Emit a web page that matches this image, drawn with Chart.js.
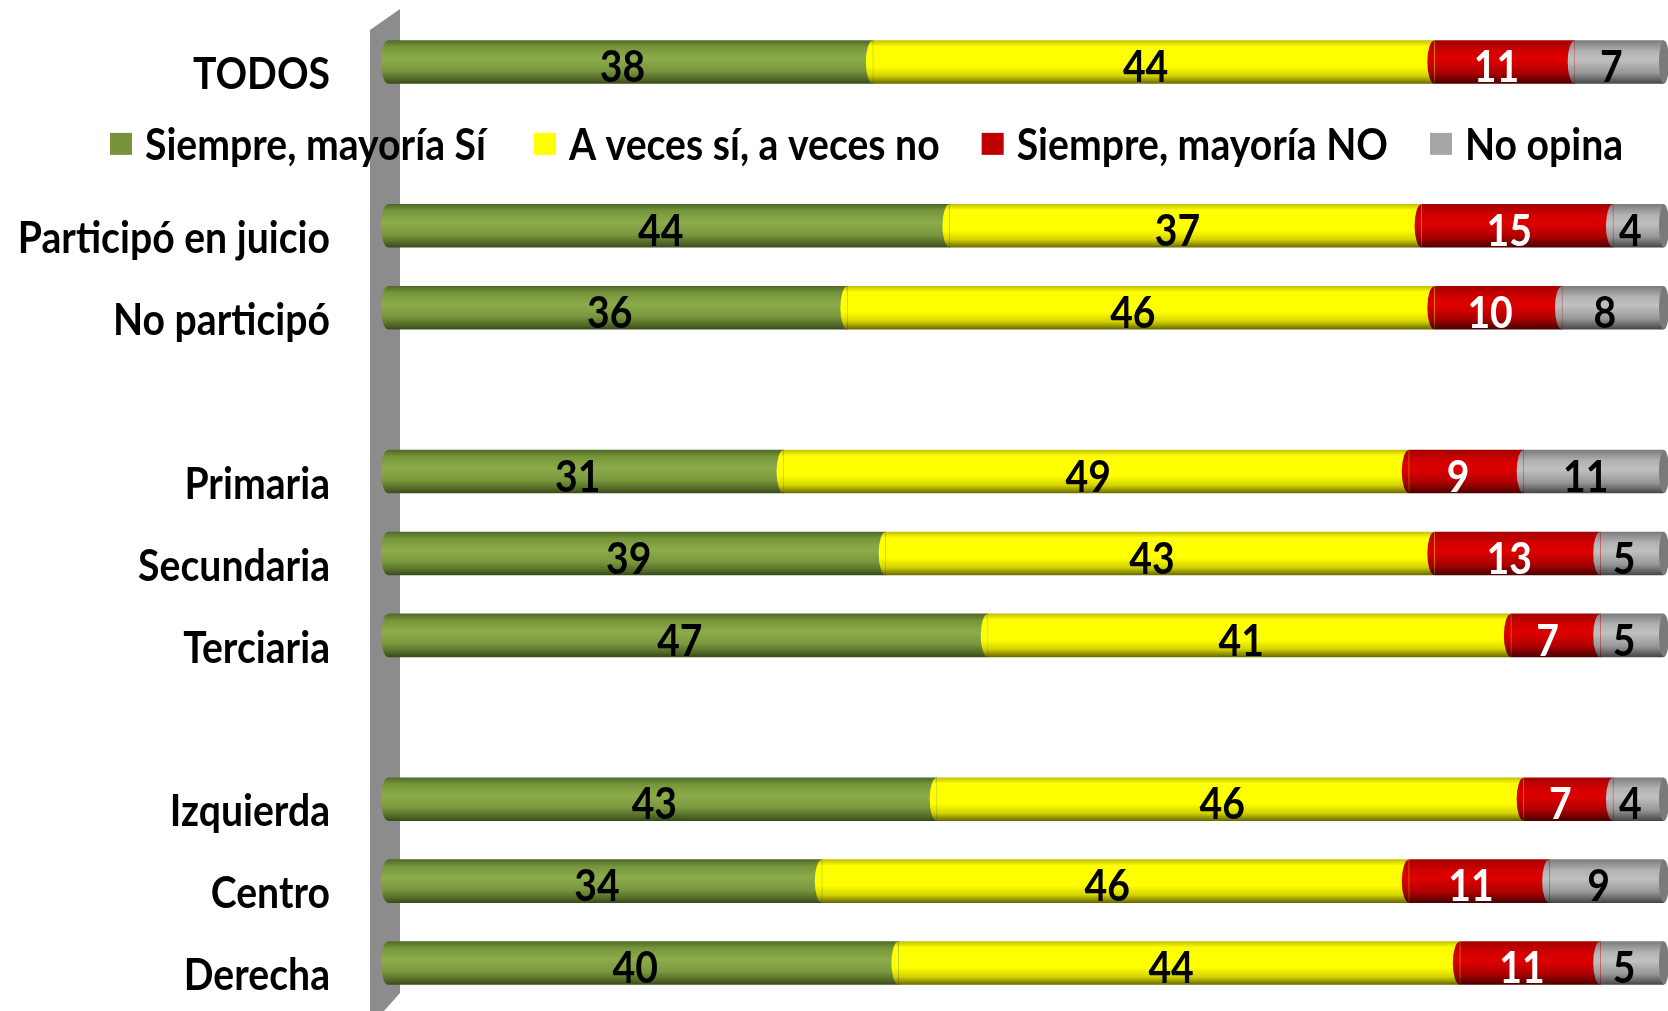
<!DOCTYPE html>
<html>
<head>
<meta charset="utf-8">
<script src="https://cdn.jsdelivr.net/npm/chart.js@4.4.1/dist/chart.umd.min.js"></script>
<style>
  html, body { margin: 0; padding: 0; background: #ffffff; }
  #wrap { width: 1668px; height: 1011px; }
</style>
</head>
<body>
<div id="wrap"><canvas id="c" width="1668" height="1011"></canvas></div>
<script>
const categories = ['TODOS', '', 'Participó en juicio', 'No participó', '', 'Primaria', 'Secundaria', 'Terciaria', '', 'Izquierda', 'Centro', 'Derecha'];
const seriesNames = ['Siempre, mayoría Sí', 'A veces sí, a veces no', 'Siempre, mayoría NO', 'No opina'];
const siempreSi  = [38, null, 44, 36, null, 31, 39, 47, null, 43, 34, 40];
const aVeces     = [44, null, 37, 46, null, 49, 43, 41, null, 46, 46, 44];
const siempreNo  = [11, null, 15, 10, null, 9, 13, 7, null, 7, 11, 11];
const noOpina    = [7, null, 4, 8, null, 11, 5, 5, null, 4, 9, 5];

const FONT = 'bold 44px Lato, "Open Sans", sans-serif';
const SX = 0.89; // horizontal squeeze to mimic the narrow bold face
const legendColors = ['#77933c', '#ffff00', '#c00000', '#a6a6a6'];
const labelColors = ['#000000', '#000000', '#ffffff', '#000000'];
const gradStops = [
  [[0, '#4f6a26'], [0.15, '#76953b'], [0.42, '#8cac4b'], [0.7, '#7a973d'], [0.88, '#566e29'], [1, '#3a4b1b']],
  [[0, '#c2c200'], [0.14, '#ffff00'], [0.6, '#ffff00'], [0.82, '#d4d400'], [1, '#6a6a00']],
  [[0, '#a40000'], [0.25, '#d20000'], [0.45, '#de0000'], [0.75, '#ae0000'], [1, '#4c0000']],
  [[0, '#7c7c7c'], [0.25, '#b2b2b2'], [0.45, '#c0c0c0'], [0.75, '#989898'], [1, '#474747']]
];

function makeGradient(chart, di) {
  const area = chart.chartArea;
  if (!area || !chart.scales.y) return legendColors[di];
  const ys = chart.scales.y;
  const g = chart.ctx.createLinearGradient(0, area.top, 0, area.bottom);
  const H = area.bottom - area.top;
  const half = 21.5;
  let last = 0;
  categories.forEach((c, i) => {
    if (c === '') return;
    const cy = ys.getPixelForValue(i);
    gradStops[di].forEach(([p, col]) => {
      let t = (cy - half + p * 2 * half - area.top) / H;
      t = Math.min(1, Math.max(last, t));
      last = t;
      g.addColorStop(t, col);
    });
  });
  return g;
}

function squeezedText(ctx, text, x, y, align) {
  ctx.save();
  ctx.translate(x, y);
  ctx.scale(SX, 1);
  ctx.textAlign = align;
  ctx.fillText(text, 0, 0);
  ctx.restore();
}

const wallPlugin = {
  id: 'wall',
  beforeDatasetsDraw(chart) {
    const ctx = chart.ctx;
    ctx.save();
    ctx.fillStyle = '#8c8c8c';
    ctx.beginPath();
    ctx.moveTo(370, 30);
    ctx.lineTo(400, 9);
    ctx.lineTo(400, 993);
    ctx.lineTo(384, 1011);
    ctx.lineTo(370, 1011);
    ctx.closePath();
    ctx.fill();
    ctx.restore();
  }
};

const decorPlugin = {
  id: 'decor',
  afterDatasetsDraw(chart) {
    const ctx = chart.ctx;
    ctx.save();
    // cylinder end caps
    chart.data.datasets.forEach((ds, di) => {
      const meta = chart.getDatasetMeta(di);
      meta.data.forEach((el, j) => {
        if (ds.data[j] == null) return;
        const left = Math.min(el.base, el.x);
        const h = el.height;
        ctx.fillStyle = el.options.backgroundColor;
        ctx.beginPath();
        ctx.ellipse(left, el.y, 7, h / 2, 0, Math.PI / 2, Math.PI * 1.5);
        ctx.fill();
        if (di === chart.data.datasets.length - 1) {
          const right = Math.max(el.base, el.x);
          ctx.fillStyle = '#7a7a7a';
          ctx.beginPath();
          ctx.ellipse(right, el.y, 5, h / 2, 0, 0, Math.PI * 2);
          ctx.fill();
        }
      });
    });
    ctx.font = FONT;
    ctx.textBaseline = 'middle';
    // value labels
    chart.data.datasets.forEach((ds, di) => {
      const meta = chart.getDatasetMeta(di);
      meta.data.forEach((el, j) => {
        const v = ds.data[j];
        if (v == null) return;
        ctx.fillStyle = labelColors[di];
        squeezedText(ctx, String(v), (el.base + el.x) / 2 - 8, el.y + 6, 'center');
      });
    });
    // category labels (from the y scale)
    const ys = chart.scales.y;
    ctx.fillStyle = '#000000';
    ys.ticks.forEach((t, i) => {
      const lab = ys.getLabelForValue(t.value);
      if (!lab) return;
      squeezedText(ctx, lab, 330, ys.getPixelForTick(i) + 13, 'right');
    });
    // legend in the empty slot below TODOS
    const ly = ys.getPixelForValue(1);
    let x = 110;
    seriesNames.forEach((name, di) => {
      ctx.fillStyle = legendColors[di];
      ctx.fillRect(x, ly - 11, 22, 22);
      x += 22 + 13;
      ctx.fillStyle = '#000000';
      squeezedText(ctx, name, x, ly + 2, 'left');
      x += ctx.measureText(name).width * SX + (di === 0 ? 48 : 42);
    });
    ctx.restore();
  }
};

const datasets = [siempreSi, aVeces, siempreNo, noOpina].map((arr, di) => ({
  label: seriesNames[di],
  data: arr,
  backgroundColor: (ctx) => makeGradient(ctx.chart, di),
  borderWidth: 0,
  barThickness: 43,
  stack: 's'
}));

new Chart(document.getElementById('c'), {
  type: 'bar',
  data: { labels: categories, datasets },
  plugins: [wallPlugin, decorPlugin],
  options: {
    indexAxis: 'y',
    responsive: false,
    animation: false,
    devicePixelRatio: 1,
    layout: { padding: { top: 21, bottom: 7, right: 4, left: 0 } },
    plugins: { legend: { display: false }, tooltip: { enabled: false } },
    scales: {
      x: { stacked: true, min: 0, max: 100, display: false },
      y: {
        stacked: true,
        grid: { display: false, drawTicks: false },
        border: { display: false },
        ticks: { display: false, autoSkip: false },
        afterFit(scale) { scale.width = 388; }
      }
    }
  }
});
</script>
</body>
</html>
